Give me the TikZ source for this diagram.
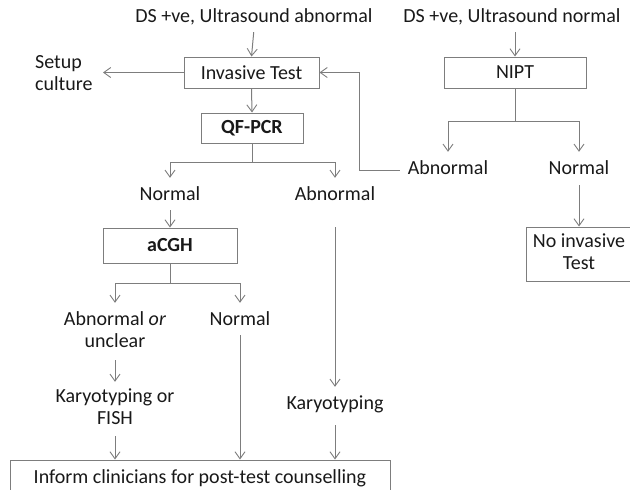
\documentclass[tikz,border=0pt]{standalone}
\usepackage{fontspec}
\setmainfont{Carlito}
\usetikzlibrary{arrows.meta}
\definecolor{linegray}{RGB}{125,125,125}
\definecolor{txt}{RGB}{25,25,25}
\newcommand{\lblfont}{\fontsize{20}{22}\selectfont}
\begin{document}
\begin{tikzpicture}[x=1pt,y=-1pt,
  lbl/.style={font=\lblfont, text=txt, inner sep=0pt, text height=15.4pt, text depth=6.6pt},
  lbltwo/.style={font=\lblfont, text=txt, inner sep=0pt, align=center},
  box/.style={draw=linegray, line width=1pt, inner sep=0pt, font=\lblfont, text=txt},
  conn/.style={draw=linegray, line width=1pt},
  arr/.style={conn, -{Straight Barb[length=7pt,width=10pt,line width=0.9pt]}}]
\useasboundingbox (0,0) rectangle (630,490);
% nodes
\node[lbl] (ds1) at (254,18) {DS +ve, Ultrasound abnormal};
\node[lbl] (ds2) at (512,18) {DS +ve, Ultrasound normal};
\node[box, minimum width=135pt, minimum height=31pt] (inv) at (251.5,72.5) {Invasive Test};
\node[lbltwo, anchor=west, align=left] (setup) at (35,75) {\strut Setup\\\strut culture};
\node[box, minimum width=102pt, minimum height=30pt, font=\lblfont\bfseries] (qf) at (252,128) {QF-PCR};
\node[lbl] (n1) at (170,196) {Normal};
\node[lbl] (ab1) at (335,196) {Abnormal};
\node[box, minimum width=134pt, minimum height=35pt, font=\lblfont\bfseries] (acgh) at (170,245.5) {aCGH};
\node[lbltwo] (ab2) at (115,332) {\strut Abnormal \textit{or}\\\strut unclear};
\node[lbl] (n2) at (240,321) {Normal};
\node[lbltwo] (kf) at (115,409) {\strut Karyotyping or\\\strut FISH};
\node[lbl] (kar) at (335,405) {Karyotyping};
\node[box, minimum width=380pt, minimum height=36pt] (inform) at (200,478) {Inform clinicians for post-test counselling};
\node[box, minimum width=142pt, minimum height=31pt] (nipt) at (515,72.5) {NIPT};
\node[lbl] (na) at (448,170) {Abnormal};
\node[lbl] (nn) at (579,170) {Normal};
\node[box, minimum width=106pt, minimum height=54pt, align=center] (noinv) at (579,254) {\strut No invasive\\\strut Test};
% junction coordinates
\coordinate (setupin) at (103,72.5);
\coordinate (qfj) at (252,162);
\coordinate (acj) at (170,283);
\coordinate (nj) at (515,121);
\coordinate (fb) at (359,72.5);
% connectors
\draw[arr, shorten <=3pt] (ds1.south) -- (inv.north);
\draw[arr, shorten <=3pt] (nipt.north |- ds2.south) -- (nipt.north);
\draw[arr] (inv.west) -- (setupin);
\draw[arr] (inv.south) -- (qf.north);
\draw[conn] (qf.south) -- (qfj);
\draw[arr, shorten >=7pt] (qfj) -| (n1.north);
\draw[arr, shorten >=7pt] (qfj) -| (ab1.north);
\draw[arr, shorten <=3pt] (n1.south) -- (acgh.north);
\draw[conn] (acgh.south) -- (acj);
\draw[arr, shorten >=7pt] (acj) -| (ab2.north);
\draw[arr, shorten >=7pt] (acj) -| (n2.north);
\draw[arr, shorten <=6pt, shorten >=5pt] (ab2.south) -- (kf.north);
\draw[arr, shorten <=5pt] (kf.south) -- (kf.south |- inform.north);
\draw[arr, shorten <=3pt] (n2.south) -- (n2.south |- inform.north);
\draw[arr, shorten <=20pt, shorten >=7pt] (ab1.south) -- (kar.north);
\draw[arr, shorten <=9pt] (kar.south) -- (kar.south |- inform.north);
\draw[conn] (nipt.south) -- (nj);
\draw[arr, shorten >=7pt] (nj) -| (na.north);
\draw[arr, shorten >=7pt] (nj) -| (nn.north);
\draw[arr, shorten <=4pt] (nn.south) -- (noinv.north);
\draw[arr, shorten <=8pt] (na.west) -- (na.west -| fb) -- (fb) -- (inv.east);
\end{tikzpicture}
\end{document}
